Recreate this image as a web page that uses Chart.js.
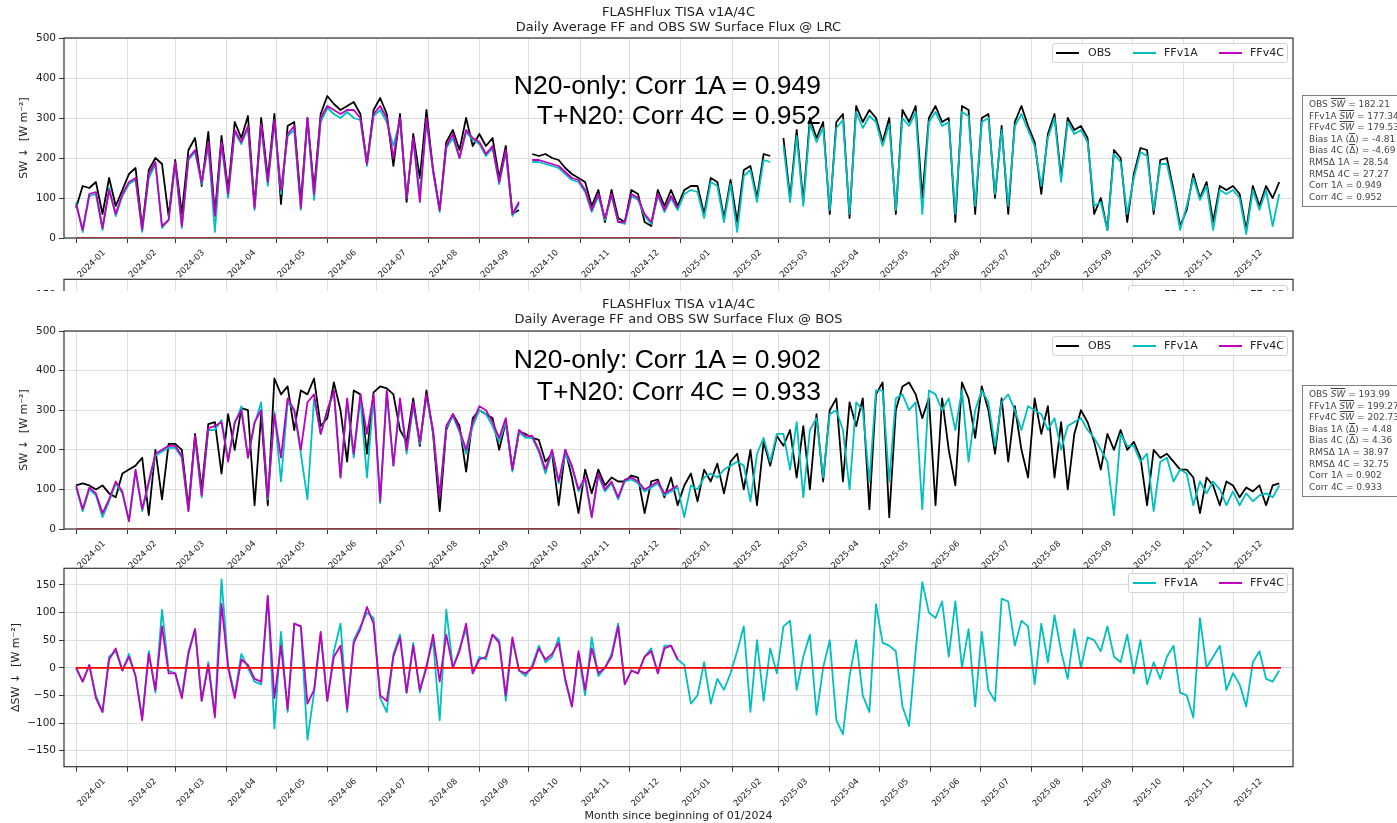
<!DOCTYPE html>
<html>
<head>
<meta charset="utf-8">
<script src="https://cdn.jsdelivr.net/npm/chart.js@4.4.1/dist/chart.umd.min.js"></script>
<style>
  html, body { margin: 0; padding: 0; background: #fff; }
  body { position: relative; width: 1397px; height: 823px; overflow: hidden; font-family: 'DejaVu Sans', sans-serif; color: #222; }
  canvas { position: absolute; left: 0; }
  .title { position: absolute; left: 0; width: 1357px; text-align: center; font-size: 13px; line-height: 15px; }
  .note { position: absolute; right: 576px; white-space: nowrap; font-family: 'Liberation Sans', Arial, sans-serif; font-size: 26.5px; line-height: 30px; color: #000; }
  .legend { position: absolute; height: 20px; box-sizing: border-box; border: 1px solid #d3d3d3; border-radius: 3px; background: rgba(255,255,255,.85); font-size: 11px; }
  .legend i { position: absolute; top: 8px; width: 23px; height: 2px; }
  .legend span { position: absolute; top: 2px; line-height: 14px; }
  .stats { position: absolute; left: 1302px; width: 120px; box-sizing: border-box; border: 1.5px solid #808080; padding: 3px 6px; font-size: 9px; line-height: 11.6px; color: #444; white-space: nowrap; }
  .ov { text-decoration: overline; }
  .it { font-style: italic; }
  #strip { position: absolute; left: 0; top: 270px; width: 1397px; height: 21px; overflow: hidden; }
</style>
</head>
<body>
<canvas id="cLRC" width="1397" height="291" style="top:0"></canvas>
<div id="strip">
  <canvas id="cStub" width="1397" height="240" style="top:0"></canvas>
  <div class="legend" style="left:1128px; top:15px; width:160px">
    <i style="left:4px; background:#00bfbf"></i><span style="left:35px">FFv1A</span>
    <i style="left:90px; background:#bf00bf"></i><span style="left:121px">FFv4C</span>
  </div>
</div>
<canvas id="cBOS" width="1397" height="281" style="top:291px"></canvas>
<canvas id="cDiff" width="1397" height="275" style="top:548px"></canvas>

<!-- LRC panel text -->
<div class="title" style="top:4px">FLASHFlux TISA v1A/4C<br>Daily Average FF and OBS SW Surface Flux @ LRC</div>
<div class="note" style="top:70px">N20-only: Corr 1A = 0.949</div>
<div class="note" style="top:100px">T+N20: Corr 4C = 0.952</div>
<div class="legend" style="left:1052px; top:43px; width:236px">
  <i style="left:3px; background:#000"></i><span style="left:35px">OBS</span>
  <i style="left:80px; background:#00bfbf"></i><span style="left:111px">FFv1A</span>
  <i style="left:166px; background:#bf00bf"></i><span style="left:197px">FFv4C</span>
</div>
<div class="stats" style="top:95px">
  OBS <span class="ov it">SW</span> = 182.21<br>
  FFv1A <span class="ov it">SW</span> = 177.34<br>
  FFv4C <span class="ov it">SW</span> = 179.53<br>
  Bias 1A (<span class="ov">Δ</span>) = -4.81<br>
  Bias 4C (<span class="ov">Δ</span>) = -4.69<br>
  RMSΔ 1A = 28.54<br>
  RMSΔ 4C = 27.27<br>
  Corr 1A = 0.949<br>
  Corr 4C = 0.952
</div>

<!-- BOS panel text -->
<div class="title" style="top:296px">FLASHFlux TISA v1A/4C<br>Daily Average FF and OBS SW Surface Flux @ BOS</div>
<div class="note" style="top:344px">N20-only: Corr 1A = 0.902</div>
<div class="note" style="top:376px">T+N20: Corr 4C = 0.933</div>
<div class="legend" style="left:1052px; top:336px; width:236px">
  <i style="left:3px; background:#000"></i><span style="left:35px">OBS</span>
  <i style="left:80px; background:#00bfbf"></i><span style="left:111px">FFv1A</span>
  <i style="left:166px; background:#bf00bf"></i><span style="left:197px">FFv4C</span>
</div>
<div class="stats" style="top:385px">
  OBS <span class="ov it">SW</span> = 193.99<br>
  FFv1A <span class="ov it">SW</span> = 199.27<br>
  FFv4C <span class="ov it">SW</span> = 202.73<br>
  Bias 1A (<span class="ov">Δ</span>) = 4.48<br>
  Bias 4C (<span class="ov">Δ</span>) = 4.36<br>
  RMSΔ 1A = 38.97<br>
  RMSΔ 4C = 32.75<br>
  Corr 1A = 0.902<br>
  Corr 4C = 0.933
</div>

<!-- difference panel legend -->
<div class="legend" style="left:1128px; top:573px; width:160px">
  <i style="left:4px; background:#00bfbf"></i><span style="left:35px">FFv1A</span>
  <i style="left:90px; background:#bf00bf"></i><span style="left:121px">FFv4C</span>
</div>

<script>
// ─── Axis data ───────────────────────────────────────────────────────────────
// days since 2024-01-01 of each month start, and their labels
const MONTH_DAYS = [0, 31, 60, 91, 121, 152, 182, 213, 244, 274, 305, 335,
    366, 397, 425, 456, 486, 517, 547, 578, 609, 639, 670, 700];
const MONTH_LABELS = ['2024-01', '2024-02', '2024-03', '2024-04', '2024-05', '2024-06',
    '2024-07', '2024-08', '2024-09', '2024-10', '2024-11', '2024-12',
    '2025-01', '2025-02', '2025-03', '2025-04', '2025-05', '2025-06',
    '2025-07', '2025-08', '2025-09', '2025-10', '2025-11', '2025-12'];
const SW_TICKS = [0, 100, 200, 300, 400, 500];
const DSW_TICKS = [-150, -100, -50, 0, 50, 100, 150];

// values read every 4th day, starting 2024-01-01
const STEP_DAYS = 4;

// zero reference lines
const REF_DAYS_Y1 = [0, 365];
const REF_DAYS_ALL = [0, 729];
const REF_VALS = [0, 0];

// ─── LRC ─────────────────────────────────────────────────────────────────────
const obsLRC = [
    75, 130, 125, 140, 60, 150, 80, 120,
    160, 175, 25, 170, 200, 185, 55,
    195, 60, 220, 250, 130, 265, 60, 255,
    120, 290, 250, 305, 80, 300, 150, 310,
    85, 280, 290, 90, 300, 120, 310, 355,
    335, 320, 330, 340, 310, 185, 320,
    350, 310, 180, 310, 90, 260, 150, 320,
    170, 70, 240, 270, 220, 300, 230,
    260, 230, 250, 150, 230, 60, 70, null,
    210, 205, 210, 200, 195, 175, 160, 150,
    140, 80, 120, 40, 120, 50, 40,
    120, 110, 40, 30, 120, 80, 120, 80,
    120, 130, 130, 60, 150, 140, 50, 145,
    40, 170, 180, 100, 210, 205, null,
    250, 100, 270, 90, 300, 250, 290,
    60, 290, 310, 50, 330, 290, 320, 300,
    240, 300, 60, 320, 290, 330, 100, 300,
    330, 290, 300, 40, 330, 320, 60, 300,
    310, 100, 280, 60, 290, 330, 280,
    240, 110, 260, 310, 150, 300, 270, 280,
    250, 60, 100, 20, 220, 200, 40,
    160, 225, 220, 60, 195, 200, 120, 30,
    70, 160, 100, 140, 40, 130, 120,
    130, 110, 20, 130, 80, 130, 100, 140,
];
const ff1aLRC = [
    90, 15, 105, 110, 20, 125, 55, 105,
    135, 145, 15, 150, 185, 25, 45,
    185, 25, 195, 215, 135, 230, 15, 235,
    100, 265, 235, 275, 70, 280, 130, 290,
    110, 255, 270, 70, 295, 95, 290, 325,
    310, 300, 315, 300, 295, 180, 305,
    320, 290, 230, 295, 100, 245, 110, 290,
    165, 65, 225, 250, 200, 265, 245,
    235, 205, 225, 135, 215, 55, 85, null,
    190, 190, 185, 180, 175, 160, 145, 140,
    115, 65, 105, 45, 105, 40, 35,
    105, 95, 55, 35, 105, 65, 100, 70,
    110, 120, 115, 50, 140, 130, 40, 135,
    15, 155, 170, 90, 195, 190, null,
    230, 90, 255, 80, 285, 240, 275,
    70, 275, 295, 60, 315, 275, 305, 290,
    230, 285, 70, 300, 280, 315, 60, 290,
    315, 280, 290, 60, 315, 305, 80, 290,
    300, 110, 270, 80, 280, 310, 270,
    230, 130, 250, 300, 140, 290, 260, 270,
    240, 80, 90, 20, 210, 190, 60,
    150, 215, 205, 70, 185, 185, 110, 20,
    80, 150, 95, 130, 20, 120, 110,
    120, 100, 10, 120, 70, 120, 30, 110,
];
const ff4cLRC = [
    85, 20, 110, 115, 25, 120, 60, 110,
    140, 150, 20, 160, 190, 30, 45,
    190, 30, 200, 220, 140, 240, 55, 240,
    110, 270, 240, 280, 75, 285, 140, 295,
    120, 260, 280, 75, 300, 110, 300, 330,
    320, 310, 320, 320, 300, 185, 310,
    330, 300, 200, 300, 100, 250, 90, 300,
    170, 70, 230, 260, 200, 270, 250,
    240, 210, 230, 140, 220, 60, 90, null,
    195, 195, 190, 185, 180, 165, 150, 145,
    120, 70, 110, 50, 110, 40, 40,
    110, 100, 60, 40, 110, 70, 105, 75,
];

// ─── BOS ─────────────────────────────────────────────────────────────────────
const obsBOS = [
    110, 115, 110, 100, 110, 90, 80, 140,
    150, 160, 180, 35, 200, 75, 215,
    215, 200, 55, 240, 100, 265, 270, 140,
    290, 200, 305, 300, 60, 290, 60, 380,
    340, 360, 250, 350, 340, 380, 260, 280,
    370, 300, 170, 350, 340, 190, 345,
    360, 355, 340, 250, 220, 330, 210, 350,
    240, 45, 250, 290, 260, 145, 280,
    300, 290, 280, 200, 270, 150, 245, 240,
    230, 225, 170, 190, 60, 200, 130, 40,
    150, 90, 150, 110, 130, 120, 120,
    135, 130, 40, 120, 125, 80, 130, 60,
    110, 140, 70, 150, 120, 165, 90, 170,
    190, 100, 200, 60, 220, 160, 235,
    210, 250, 130, 260, 100, 290, 120,
    300, 330, 120, 320, 260, 330, 50, 340,
    370, 30, 300, 360, 370, 340, 280, 330,
    60, 330, 200, 110, 370, 330, 230, 360,
    300, 190, 330, 170, 310, 200, 130,
    330, 240, 310, 130, 270, 100, 240, 300,
    270, 220, 150, 240, 200, 250, 200,
    220, 180, 60, 200, 180, 190, 170, 150,
    150, 130, 40, 130, 110, 60, 120,
    110, 80, 105, 95, 110, 60, 110, 115,
];
const ff1aBOS = [
    105, 45, 100, 85, 30, 70, 115, 90,
    20, 145, 45, 115, 185, 195, 205,
    205, 180, 45, 230, 80, 250, 250, 275,
    175, 265, 310, 180, 265, 320, 75, 295,
    120, 320, 300, 190, 75, 330, 240, 300,
    345, 130, 320, 180, 330, 130, 335,
    65, 345, 160, 320, 190, 310, 215, 335,
    245, 85, 255, 285, 245, 190, 260,
    300, 290, 260, 220, 270, 145, 245, 230,
    230, 195, 140, 195, 115, 190, 155, 95,
    125, 30, 135, 95, 115, 75, 120,
    125, 115, 95, 105, 115, 85, 95, 105,
    30, 110, 100, 130, 140, 130, 150, 160,
    170, 160, 70, 190, 230, 170, 240,
    240, 150, 270, 80, 250, 280, 130,
    290, 300, 250, 100, 320, 300, 120, 350,
    350, 120, 330, 340, 300, 320, 50, 350,
    340, 300, 330, 250, 350, 170, 300, 350,
    320, 210, 320, 340, 300, 250, 310,
    300, 290, 250, 280, 200, 260, 270, 280,
    250, 230, 200, 170, 35, 240, 210,
    210, 170, 190, 45, 170, 180, 120, 150,
    140, 60, 120, 90, 120, 100, 60,
    95, 60, 90, 70, 85, 90, 80, 110,
];
const ff4cBOS = [
    110, 50, 105, 90, 40, 75, 120, 95,
    20, 150, 50, 120, 190, 200, 210,
    210, 185, 45, 235, 85, 255, 260, 270,
    170, 270, 300, 180, 270, 300, 80, 290,
    180, 330, 300, 200, 320, 340, 240, 300,
    350, 130, 330, 190, 340, 240, 340,
    70, 350, 160, 330, 200, 320, 220, 340,
    250, 80, 260, 290, 250, 200, 270,
    310, 300, 270, 230, 280, 150, 250, 235,
    235, 200, 150, 200, 120, 200, 160, 100,
    130, 30, 140, 100, 120, 80, 125,
    130, 120, 100, 110, 120, 90, 100, 110,
];

// ─── ΔSW (FF − OBS) at BOS ───────────────────────────────────────────────────
const diff1A = [
    0, -25, 5, -50, -80, 20, 30, -5,
    25, -15, -90, 30, -45, 105, -5,
    -10, -50, 30, 70, -60, 10, -85, 160,
    5, -50, 25, 0, -25, -30, 130, -110,
    65, -80, 80, 75, -130, -45, 60, -60,
    30, 80, -80, 50, 75, 100, 90,
    -55, -80, 25, 60, -45, 45, -45, 5,
    50, -95, 105, 0, 35, 70, -10,
    20, 15, 60, 50, -60, 50, -5, -15,
    5, 40, 10, 20, 55, -25, -70, 25,
    -50, 55, -15, 0, 25, 80, -30,
    -5, -10, 20, 35, -10, 40, 40, 15,
    5, -65, -50, 10, -65, -20, -40, -10,
    30, 75, -80, 50, -60, 35, -10,
    75, 85, -40, 20, 60, -85, 0,
    50, -95, -120, -15, 50, -50, -80, 115,
    45, 40, 30, -70, -105, 30, 155, 100,
    90, 120, 20, 120, 0, 70, -70, 65,
    -40, -60, 125, 120, 40, 85, 75,
    -30, 80, 10, 95, 30, -20, 70, 0,
    55, 50, 30, 75, 20, 10, 60,
    -10, 50, -30, 10, -20, 20, 40, -45,
    -50, -90, 90, 0, 20, 40, -40,
    -10, -30, -70, 10, 30, -20, -25, -5,
];
const diff4C = [
    0, -25, 5, -55, -80, 15, 35, -5,
    20, -15, -95, 25, -40, 75, -10,
    -10, -55, 25, 70, -60, 5, -90, 115,
    0, -55, 15, 5, -20, -25, 130, -55,
    40, -75, 80, 75, -65, -40, 65, -60,
    20, 40, -75, 45, 70, 110, 80,
    -50, -60, 20, 55, -45, 40, -40, 0,
    60, -25, 60, 0, 30, 80, -10,
    15, 20, 60, 45, -50, 55, -5, -10,
    0, 35, 15, 25, 45, -20, -70, 30,
    -40, 35, -10, 0, 20, 75, -30,
    -5, -10, 20, 30, -10, 35, 40, 15,
];

// ─── Style ───────────────────────────────────────────────────────────────────
const C_OBS = '#000000';
const C_1A = '#00bfbf';
const C_4C = '#bf00bf';
const C_GRID = '#dddddd';
const C_AXIS = '#333333';
const C_TEXT = '#222222';

Chart.defaults.font.family = "'DejaVu Sans', sans-serif";
Chart.defaults.color = C_TEXT;

const pts = vals => vals.map((v, i) => ({ x: i * STEP_DAYS, y: v }));
const refPts = days => days.map((d, i) => ({ x: d, y: REF_VALS[i] }));

const line = (label, data, color, order, width = 1.8) => ({
    label,
    data,
    borderColor: color,
    backgroundColor: color,
    borderWidth: width,
    borderJoinStyle: 'round',
    pointRadius: 0,
    tension: 0,
    spanGaps: false,
    order,
});

// ─── Plugins ─────────────────────────────────────────────────────────────────
// axes frame, drawn under the lines so the red zero line stays visible
const framePlugin = {
    id: 'frame',
    beforeDatasetsDraw(chart) {
        const { ctx, chartArea: a } = chart;
        ctx.save();
        ctx.strokeStyle = C_AXIS;
        ctx.lineWidth = 1.2;
        ctx.strokeRect(a.left, a.top, a.right - a.left, a.bottom - a.top);
        ctx.restore();
    },
};

// rotated month labels, left edge under the tick like the original
const monthLabelPlugin = {
    id: 'monthLabels',
    afterDraw(chart, args, opts) {
        if (!opts.show) return;
        const { ctx } = chart;
        const xs = chart.scales.x;
        const bottom = chart.chartArea.bottom;
        ctx.save();
        ctx.font = "8.5px 'DejaVu Sans'";
        ctx.fillStyle = C_TEXT;
        ctx.textAlign = 'center';
        ctx.textBaseline = 'middle';
        MONTH_DAYS.forEach((d, i) => {
            const px = xs.getPixelForValue(d);
            ctx.save();
            ctx.translate(px + 15.5, bottom + 26);
            ctx.rotate(-Math.PI / 4);
            ctx.fillText(MONTH_LABELS[i], 0, 0);
            ctx.restore();
        });
        ctx.restore();
    },
};

// ─── Panel builder ───────────────────────────────────────────────────────────
function buildPanel(id, p) {
    const ctx = document.getElementById(id);
    return new Chart(ctx, {
        type: 'line',
        data: { datasets: p.datasets },
        plugins: [framePlugin, monthLabelPlugin],
        options: {
            responsive: false,
            animation: false,
            devicePixelRatio: 1,
            layout: { padding: { top: p.plotTop - p.top, right: 104, left: 0, bottom: 0 } },
            plugins: {
                legend: { display: false },
                tooltip: { enabled: false },
                monthLabels: { show: p.monthLabels !== false },
            },
            scales: {
                x: {
                    type: 'linear',
                    min: -7.3,
                    max: 736.3,
                    afterBuildTicks: s => { s.ticks = MONTH_DAYS.map(v => ({ value: v })); },
                    afterFit: s => { s.height = p.top + p.height - p.plotBottom; },
                    ticks: { display: false },
                    grid: { color: C_GRID, lineWidth: 1, tickLength: 5, tickColor: C_AXIS, tickWidth: 1 },
                    border: { display: false },
                    title: p.xTitle
                        ? { display: true, text: p.xTitle, font: { size: 11 }, padding: { top: 0, bottom: 0 }, color: C_TEXT }
                        : { display: false },
                },
                y: {
                    type: 'linear',
                    min: p.yMin,
                    max: p.yMax,
                    afterBuildTicks: s => { s.ticks = p.yTicks.map(v => ({ value: v })); },
                    afterFit: s => { s.width = 64; },
                    ticks: {
                        font: { size: 10.5 },
                        color: C_TEXT,
                        padding: 3,
                        callback: v => String(v).replace('-', '\u2212'),
                    },
                    grid: { color: C_GRID, lineWidth: 1, tickLength: 5, tickColor: C_AXIS, tickWidth: 1 },
                    border: { display: false },
                    title: {
                        display: true,
                        text: p.yTitle,
                        font: { size: 11 },
                        color: C_TEXT,
                        padding: { top: p.yTitlePad, bottom: 0 },
                    },
                },
            },
        },
    });
}

// ─── Build ───────────────────────────────────────────────────────────────────
buildPanel('cLRC', {
    top: 0, height: 291, plotTop: 38, plotBottom: 238,
    yMin: 0, yMax: 500, yTicks: SW_TICKS,
    yTitle: 'SW \u2193  [W m\u207B\u00B2]', yTitlePad: 17.5,
    datasets: [
        line('OBS', pts(obsLRC), C_OBS, 3),
        line('FFv1A', pts(ff1aLRC), C_1A, 2),
        line('FFv4C', pts(ff4cLRC), C_4C, 1),
        line('ref', refPts(REF_DAYS_Y1), '#a01c1c', 0, 1.6),
    ],
});

buildPanel('cStub', {
    top: 270, height: 240, plotTop: 278, plotBottom: 476,
    yMin: -180, yMax: 180, yTicks: DSW_TICKS,
    yTitle: '\u0394SW \u2193  [W m\u207B\u00B2]', yTitlePad: 9.5,
    monthLabels: false,
    datasets: [],
});

buildPanel('cBOS', {
    top: 291, height: 281, plotTop: 331, plotBottom: 529,
    yMin: 0, yMax: 500, yTicks: SW_TICKS,
    yTitle: 'SW \u2193  [W m\u207B\u00B2]', yTitlePad: 17.5,
    datasets: [
        line('OBS', pts(obsBOS), C_OBS, 3),
        line('FFv1A', pts(ff1aBOS), C_1A, 2),
        line('FFv4C', pts(ff4cBOS), C_4C, 1),
        line('ref', refPts(REF_DAYS_Y1), '#a01c1c', 0, 1.6),
    ],
});

buildPanel('cDiff', {
    top: 548, height: 275, plotTop: 568.3, plotBottom: 766.7,
    yMin: -179, yMax: 180, yTicks: DSW_TICKS,
    yTitle: '\u0394SW \u2193  [W m\u207B\u00B2]', yTitlePad: 9.5,
    xTitle: 'Month since beginning of 01/2024',
    datasets: [
        line('FFv1A', pts(diff1A), C_1A, 2),
        line('FFv4C', pts(diff4C), C_4C, 1),
        line('zero', refPts(REF_DAYS_ALL), '#ff0000', 0, 1.8),
    ],
});
</script>
</body>
</html>
